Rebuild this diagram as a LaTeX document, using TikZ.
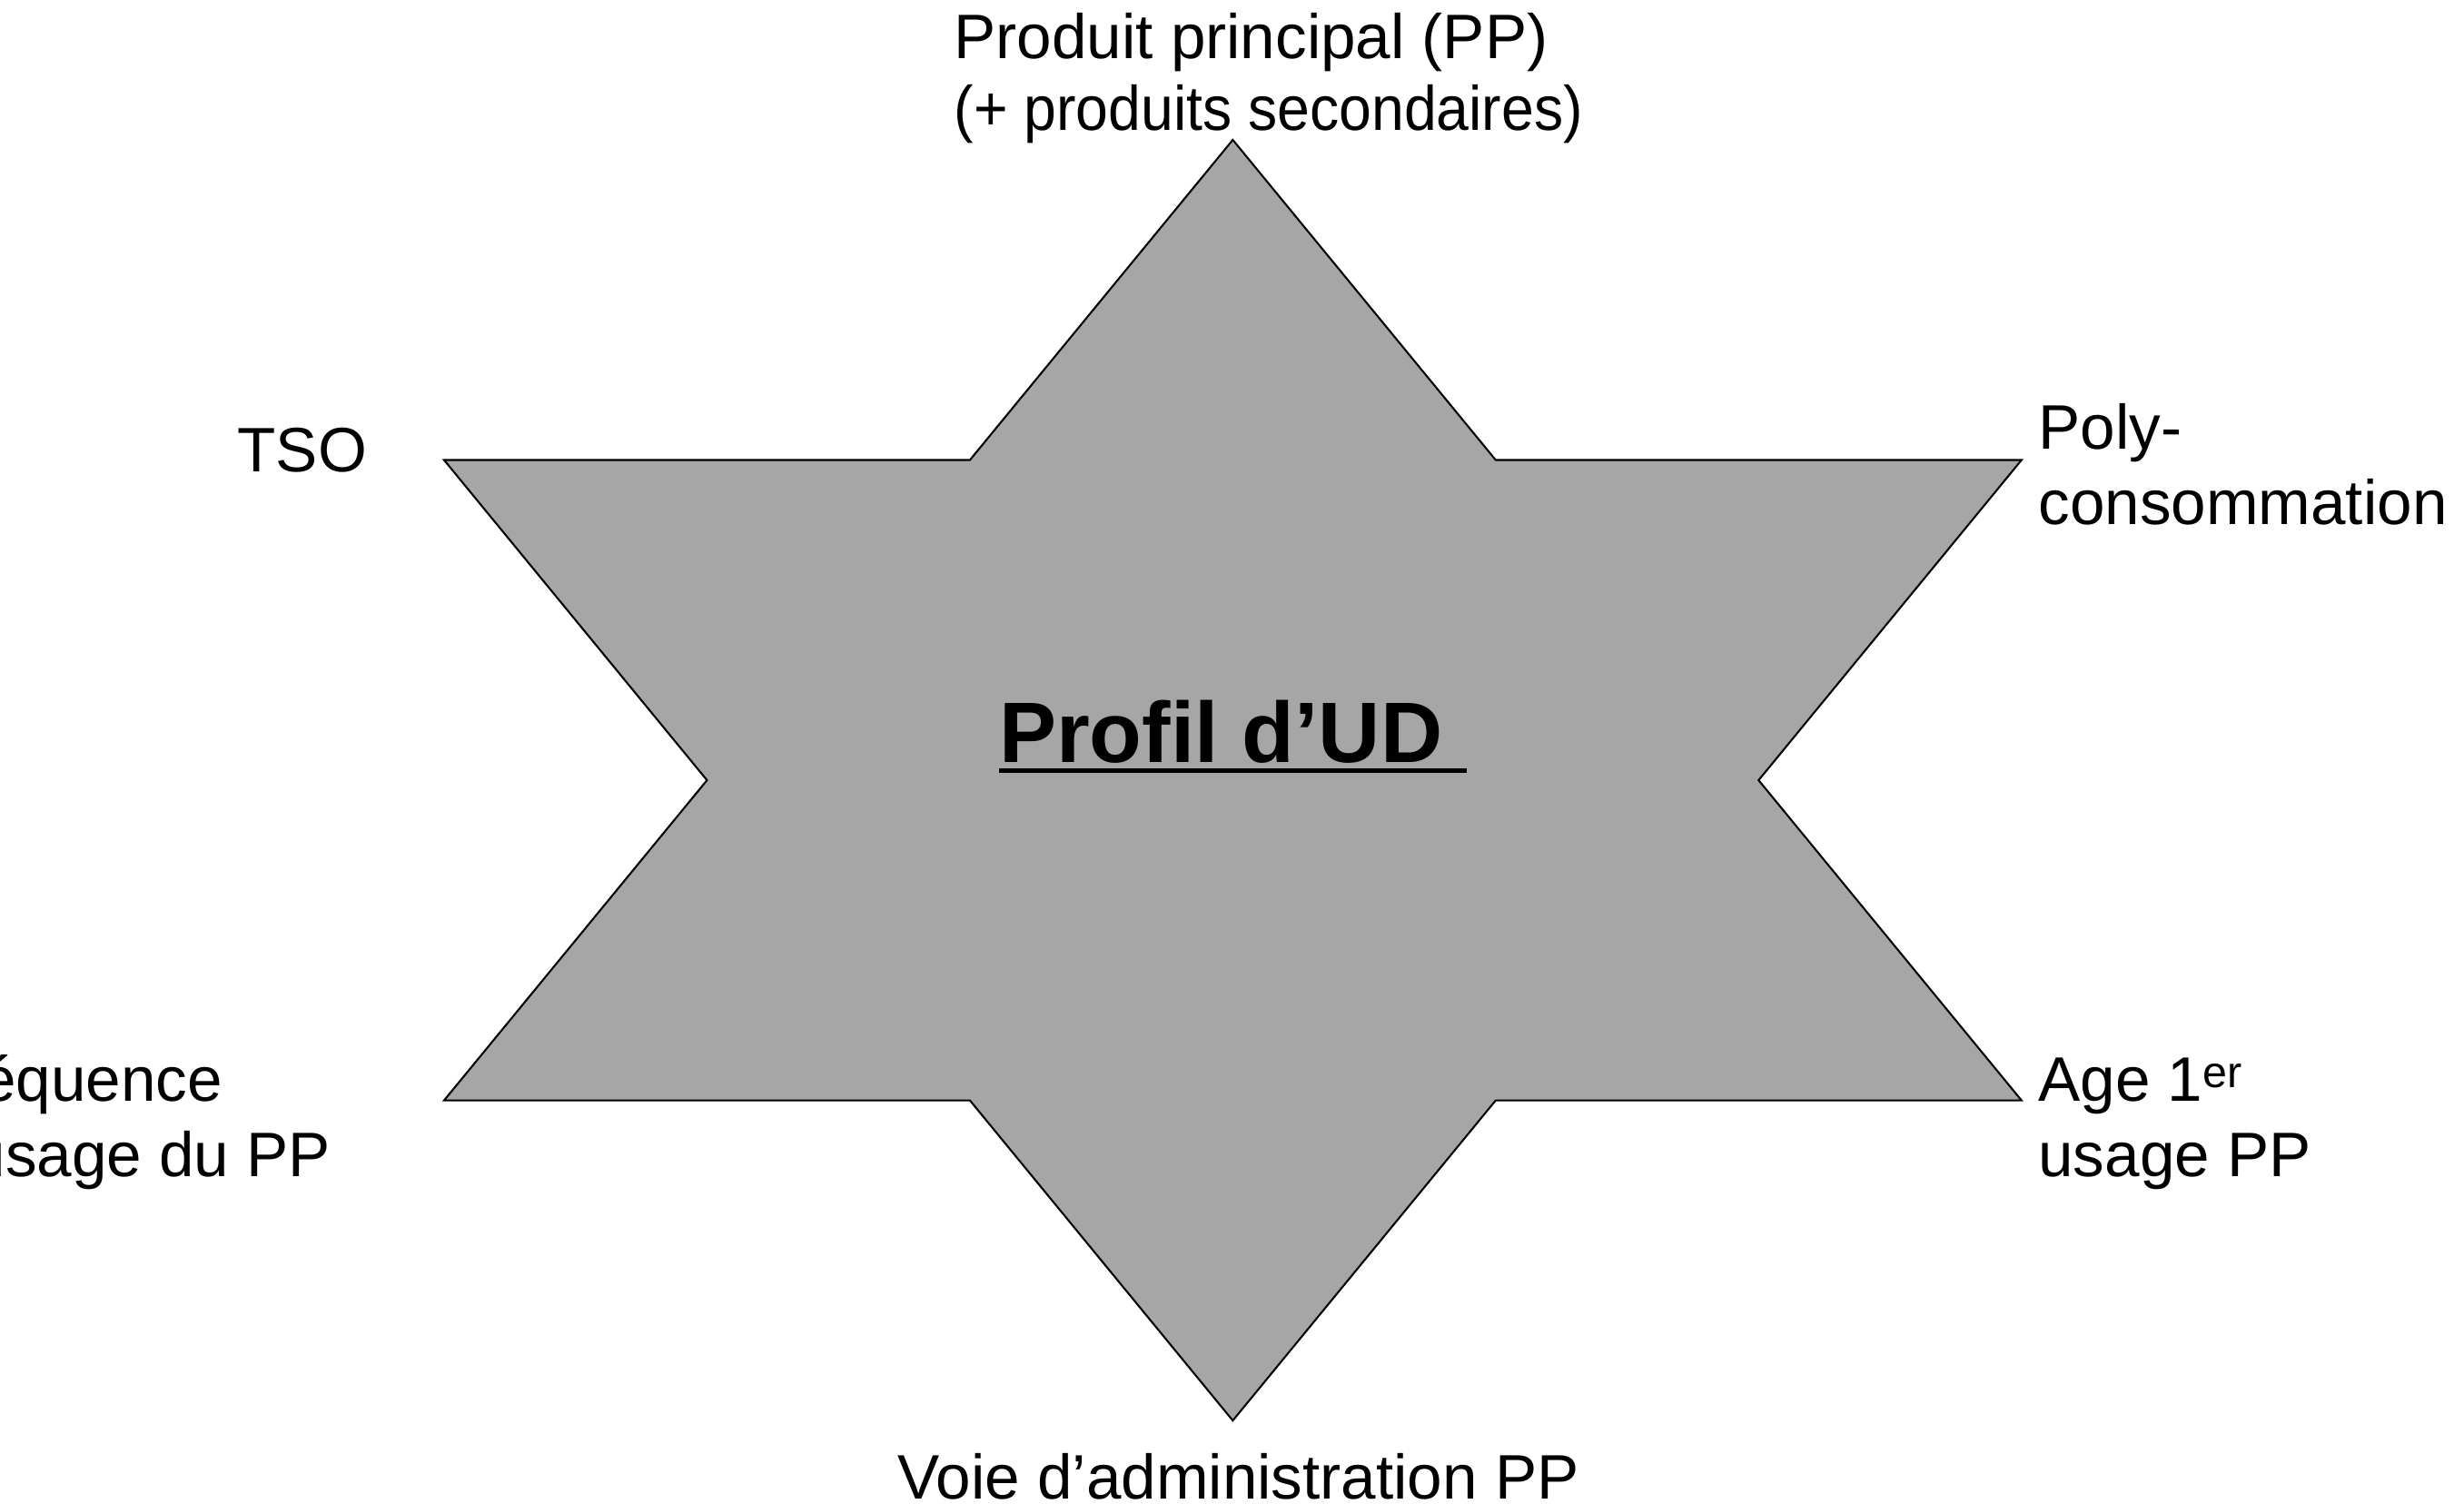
\documentclass[tikz,border=0pt]{standalone}
\usepackage{fontspec}
\setmainfont{Liberation Sans}
\definecolor{stargray}{HTML}{A6A6A6}

\begin{document}
\begin{tikzpicture}[x=1pt,y=-1pt,
    lbl/.style={inner sep=0pt,align=left,font=\fontsize{40}{48}\selectfont},
    ttl/.style={inner sep=0pt,font=\fontsize{54.6}{65}\selectfont\bfseries}]
  \useasboundingbox (0,0) rectangle (1568,957);
  % the star
  \draw[fill=stargray,line width=1.2pt] (784.5,89) -- (951.8,292.75) -- (1286.4,292.75)
    -- (1119.1,496.5) -- (1286.4,700.25) -- (951.8,700.25) -- (784.5,904)
    -- (617.2,700.25) -- (282.6,700.25) -- (449.9,496.5) -- (282.6,292.75)
    -- (617.2,292.75) -- cycle;
  \node[ttl,anchor=base] (profil) at (784.5,485) {\mbox{Profil d’UD\ }};
  \draw[line width=3pt] ([yshift=-5.5pt]profil.base west) -- ([yshift=-5.5pt]profil.base east);
  % labels (base = last line)
  \node[lbl,anchor=base west,font=\fontsize{40}{46}\selectfont] (pp) at (607,83)
    {Produit principal (PP)\\\scalebox{0.93}[1]{(+ produits secondaires)}};
  \node[lbl,anchor=base west] (tso) at (151,300) {TSO};
  \node[lbl,anchor=base west] (poly) at (1297,334) {Poly-\\consommation};
  \node[lbl,anchor=base west] (freq) at (-50,749) {Fréquence\\d’usage du PP};
  \node[lbl,anchor=base west] (age) at (1297,749) {Age 1\textsuperscript{er}\\usage PP};
  \node[lbl,anchor=base] (voie) at (788,954) {Voie d’administration PP};
\end{tikzpicture}
\end{document}
